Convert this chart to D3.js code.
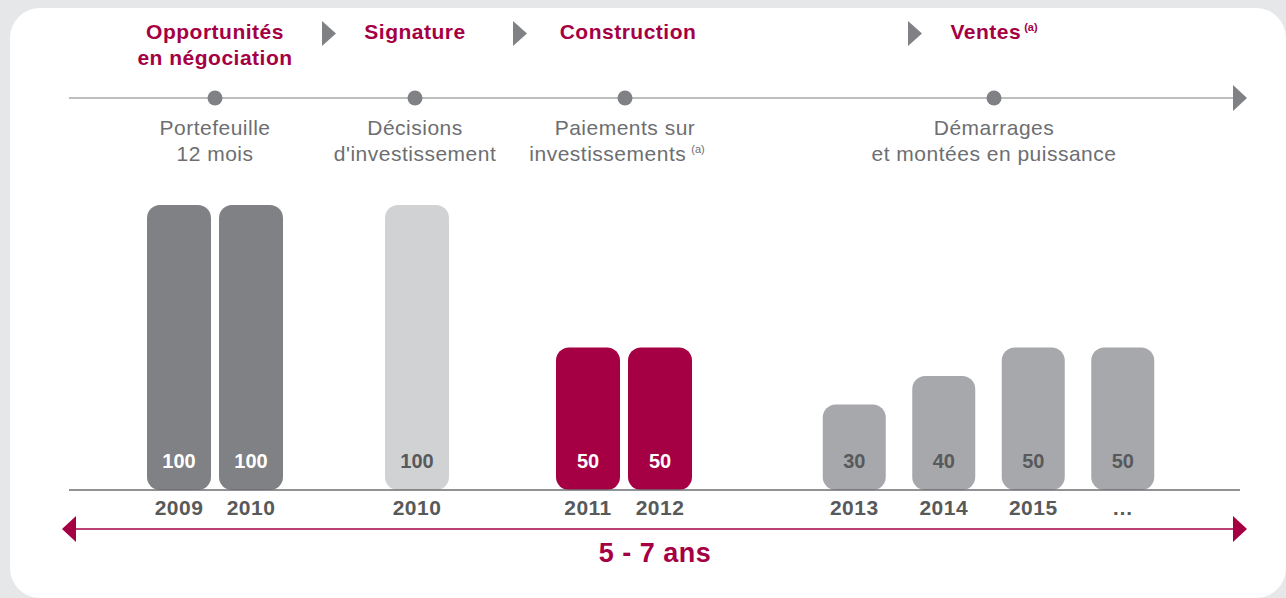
<!DOCTYPE html>
<html>
<head>
<meta charset="utf-8">
<script src="https://cdn.jsdelivr.net/npm/d3@7"></script>
<style>
  html, body { margin: 0; padding: 0; background: #e6e7e8; }
  svg { display: block; font-family: "Liberation Sans", Arial, Helvetica, sans-serif; }
</style>
</head>
<body>
<svg id="chart" width="1286" height="598"></svg>
<script>
// stages of the project cycle
var stages = ["Opportunités\nen négociation", "Signature", "Construction", "Ventes"];
var stageSup = ["", "", "", "(a)"];
var subLabels = [
  ["Portefeuille", "12 mois"],
  ["Décisions", "d'investissement"],
  ["Paiements sur", "investissements"],
  ["Démarrages", "et montées en puissance"]
];
var subSup = ["", "", "(a)", ""];

// bars per stage
var years = [["2009", "2010"], ["2010"], ["2011", "2012"], ["2013", "2014", "2015", "…"]];
var values = [[100, 100], [100], [50, 50], [30, 40, 50, 50]];
var barKind = ["dark", "light", "red", "mid"];

var spanLabel = "5 - 7 ans";

var red = "#a50044", textGray = "#6d6e71", darkText = "#58595b";
var fills = { dark: "#808184", light: "#d1d2d4", red: "#a50044", mid: "#a7a8ab" };
var valueColor = { dark: "#ffffff", light: darkText, red: "#ffffff", mid: darkText };

var svg = d3.select("#chart");

// white panel
svg.append("rect").attr("x", 10).attr("y", 8).attr("width", 1276).attr("height", 590)
  .attr("rx", 30).attr("fill", "#ffffff");

// layout: stage centres on the timeline, and group centres / steps for bars
var stageX = d3.scaleOrdinal().domain(d3.range(stages.length)).range([215, 415, 625, 994]);
var groupX = d3.scaleOrdinal().domain(d3.range(stages.length)).range([215, 417, 624, 988.5]);
var groupStep = [72, 72, 72, 89.5];
var barW = [64, 64, 64, 63];

var baseY = 490;
var y = d3.scaleLinear().domain([0, 100]).range([baseY, 205]);

// timeline
var tlY = 98;
svg.append("line").attr("x1", 69).attr("x2", 1234).attr("y1", tlY).attr("y2", tlY)
  .attr("stroke", "#a7a8ab").attr("stroke-width", 1.6);
svg.append("path").attr("d", d3.line()([[1233, tlY - 13], [1247, tlY], [1233, tlY + 13]]) + "Z")
  .attr("fill", "#808184");
svg.selectAll("circle.dot").data(stages).enter().append("circle")
  .attr("class", "dot")
  .attr("cx", function (d, i) { return stageX(i); })
  .attr("cy", tlY).attr("r", 7.5).attr("fill", "#808184");

// stage headers
var head = svg.selectAll("text.head").data(stages).enter().append("text")
  .attr("class", "head")
  .attr("y", 39)
  .attr("text-anchor", "middle")
  .attr("font-size", 21).attr("font-weight", "bold").attr("letter-spacing", 0.5).attr("fill", red);
head.each(function (d, i) {
  var t = d3.select(this);
  var cx = stageX(i) + (i == 2 ? 3 : 0);
  d.split("\n").forEach(function (line, k) {
    t.append("tspan").attr("x", cx).attr("dy", k ? 26 : 0).text(line);
  });
  if (stageSup[i]) {
    t.append("tspan").attr("font-size", 11).attr("letter-spacing", 0).attr("dx", 3).attr("dy", -8).text(stageSup[i]);
  }
});

// small arrows between stages
var arrowX = [322, 513, 908];
svg.selectAll("path.step").data(arrowX).enter().append("path")
  .attr("class", "step")
  .attr("d", function (x) { return d3.line()([[x, 21], [x + 14, 33.5], [x, 46]]) + "Z"; })
  .attr("fill", "#808184");

// sub labels
svg.selectAll("text.sub").data(subLabels).enter().append("text")
  .attr("class", "sub")
  .attr("text-anchor", "middle")
  .attr("font-size", 21).attr("letter-spacing", 0.5).attr("fill", textGray)
  .each(function (lines, i) {
    var t = d3.select(this);
    lines.forEach(function (line, k) {
      t.append("tspan").attr("x", stageX(i) - (subSup[i] && k == 1 ? 8 : 0))
        .attr("y", 135 + k * 26).text(line);
      if (k == 1 && subSup[i]) {
        t.append("tspan").attr("font-size", 11).attr("letter-spacing", 0).attr("dx", 5).attr("dy", -8).text(subSup[i]);
      }
    });
  });

// bars
var bars = [];
years.forEach(function (ys, g) {
  var n = ys.length;
  var W = (n - 1) * groupStep[g] + barW[g];
  var xb = d3.scaleBand().domain(ys).range([groupX(g) - W / 2, groupX(g) + W / 2])
    .paddingInner(n > 1 ? 1 - barW[g] / groupStep[g] : 0).paddingOuter(0);
  ys.forEach(function (yr, k) {
    bars.push({ year: yr, value: values[g][k], kind: barKind[g], x: xb(yr), w: xb.bandwidth() });
  });
});

svg.selectAll("rect.bar").data(bars).enter().append("rect")
  .attr("class", "bar")
  .attr("x", function (d) { return d.x; })
  .attr("y", function (d) { return y(d.value); })
  .attr("width", function (d) { return d.w; })
  .attr("height", function (d) { return baseY - y(d.value); })
  .attr("rx", 13)
  .attr("fill", function (d) { return fills[d.kind]; });

svg.selectAll("text.val").data(bars).enter().append("text")
  .attr("class", "val")
  .attr("x", function (d) { return d.x + d.w / 2; })
  .attr("y", 468)
  .attr("text-anchor", "middle")
  .attr("font-size", 20).attr("font-weight", "bold")
  .attr("fill", function (d) { return valueColor[d.kind]; })
  .text(function (d) { return d.value; });

// baseline
svg.append("line").attr("x1", 69).attr("x2", 1240).attr("y1", baseY).attr("y2", baseY)
  .attr("stroke", "#6d6e71").attr("stroke-width", 1.5);

svg.selectAll("text.year").data(bars).enter().append("text")
  .attr("class", "year")
  .attr("x", function (d) { return d.x + d.w / 2; })
  .attr("y", 515)
  .attr("text-anchor", "middle")
  .attr("font-size", 21).attr("font-weight", "bold").attr("letter-spacing", 0.5).attr("fill", darkText)
  .text(function (d) { return d.year; });

// duration arrow
var dY = 529;
svg.append("line").attr("x1", 74).attr("x2", 1235).attr("y1", dY).attr("y2", dY)
  .attr("stroke", red).attr("stroke-width", 1.5);
svg.append("path").attr("d", d3.line()([[76, dY - 13], [62, dY], [76, dY + 13]]) + "Z").attr("fill", red);
svg.append("path").attr("d", d3.line()([[1233, dY - 13], [1247, dY], [1233, dY + 13]]) + "Z").attr("fill", red);
svg.append("text").attr("x", 655).attr("y", 562).attr("text-anchor", "middle")
  .attr("font-size", 27).attr("font-weight", "bold").attr("letter-spacing", 0.5).attr("fill", red).text(spanLabel);
</script>
</body>
</html>
